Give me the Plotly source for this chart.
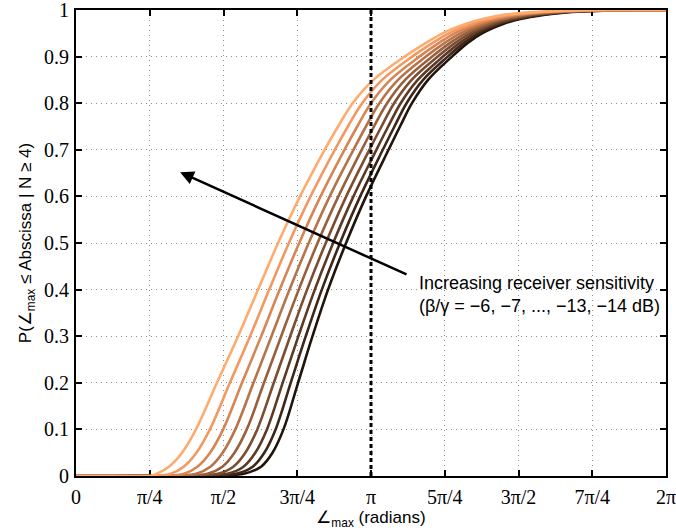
import plotly.graph_objects as go

# Cumulative probability levels (y) at which each curve's angle was read
levels = [0, 0, 0, 0.005, 0.02, 0.05, 0.1, 0.2, 0.3, 0.4, 0.5, 0.6, 0.7, 0.75, 0.8,
          0.85, 0.9, 0.93, 0.95, 0.97, 0.98, 0.99, 0.995, 1.0, 1.0, 1.0]

# Angle (degrees; axis labelled in radians) at each level, one list per beta/gamma
curve_m6 = [0, 36, 72.0, 102.5, 112.9, 119.9, 126.6, 135.5, 144.3, 153.8, 164.8, 177.0, 190.7, 197.7, 205.0,
            214.8, 229.4, 239.2, 247.7, 260.6, 270.3, 286.2, 299.0, 344.2, 352, 360]
curve_m7 = [0, 35, 69.6, 97.7, 107.8, 114.9, 121.8, 131.0, 140.2, 150.0, 161.1, 173.4, 187.2, 194.3, 201.7,
            211.8, 226.8, 236.9, 245.5, 258.5, 268.2, 284.0, 297.0, 341.6, 351, 360]
curve_m8 = [0, 33, 66.9, 92.4, 102.2, 109.4, 116.5, 126.1, 135.7, 145.7, 156.9, 169.3, 183.3, 190.5, 198.1,
            208.5, 223.9, 234.4, 243.1, 256.2, 266.0, 281.6, 294.8, 338.6, 349, 360]
curve_m9 = [0, 32, 63.9, 86.6, 96.0, 103.3, 110.6, 120.7, 130.7, 141.0, 152.4, 164.9, 179.0, 186.4, 194.1,
            204.8, 220.7, 231.6, 240.5, 253.7, 263.5, 278.9, 292.4, 335.4, 348, 360]
curve_m10 = [0, 30, 60.7, 80.2, 89.3, 96.7, 104.2, 114.7, 125.2, 135.9, 147.4, 160.1, 174.3, 181.8, 189.8,
             200.8, 217.3, 228.5, 237.6, 251.0, 260.7, 276.0, 289.8, 331.9, 346, 360]
curve_m11 = [0, 28, 57.2, 73.3, 82.0, 89.5, 97.2, 108.3, 119.3, 130.3, 142.0, 154.8, 169.3, 176.9, 185.1,
             196.5, 213.5, 225.2, 234.5, 248.0, 257.8, 272.8, 286.9, 328.1, 344, 360]
curve_m12 = [0, 27, 53.4, 65.9, 74.1, 81.8, 89.8, 101.3, 113.0, 124.3, 136.2, 149.2, 163.8, 171.6, 180.0,
             191.8, 209.5, 221.7, 231.1, 244.8, 254.6, 269.4, 283.8, 324.0, 342, 360]
curve_m13 = [0, 25, 49.3, 57.9, 65.7, 73.5, 81.7, 93.9, 106.2, 117.9, 129.9, 143.1, 157.9, 165.9, 174.6,
             186.8, 205.1, 217.9, 227.5, 241.4, 251.1, 265.7, 280.5, 319.6, 340, 360]
curve_m14 = [0, 22, 45.0, 49.4, 56.7, 64.7, 73.2, 86.0, 98.9, 111.1, 123.3, 136.7, 151.7, 159.9, 168.8,
             181.5, 200.5, 213.8, 223.7, 237.7, 247.5, 261.8, 277.0, 314.9, 338, 360]

series_names = ["-6 dB", "-7 dB", "-8 dB", "-9 dB", "-10 dB", "-11 dB", "-12 dB", "-13 dB", "-14 dB"]
series_data = [curve_m6, curve_m7, curve_m8, curve_m9, curve_m10, curve_m11, curve_m12, curve_m13, curve_m14]
series_colors = ["#20140D", "#3E2719", "#5C3A25", "#7B4D31", "#99603D",
                 "#B77349", "#D68555", "#F49861", "#FFAB6D"]

x_tick_vals = [0, 45, 90, 135, 180, 225, 270, 315, 360]
x_tick_text = ["0", "π/4", "π/2", "3π/4", "π", "5π/4", "3π/2", "7π/4", "2π"]
y_tick_vals = [0, 0.1, 0.2, 0.3, 0.4, 0.5, 0.6, 0.7, 0.8, 0.9, 1.0]
y_tick_text = ["0", "0.1", "0.2", "0.3", "0.4", "0.5", "0.6", "0.7", "0.8", "0.9", "1"]

ref_angle = [180, 180]
ref_prob = [0, 1]

fig = go.Figure()

for name, xs, col in zip(series_names, series_data, series_colors):
    fig.add_trace(go.Scatter(
        x=xs, y=levels, mode="lines", name=name,
        line=dict(color=col, width=2.6, shape="spline", smoothing=1.0),
        showlegend=False, hoverinfo="skip",
    ))

fig.add_trace(go.Scatter(
    x=ref_angle, y=ref_prob, mode="lines",
    line=dict(color="black", width=3, dash="4px,3px"),
    showlegend=False, hoverinfo="skip",
))

serif = "Liberation Serif, Times New Roman, serif"
sans = "Liberation Sans, Arial, Helvetica, sans-serif"

axis_common = dict(
    showline=True, linecolor="black", linewidth=2, mirror="allticks",
    ticks="inside", ticklen=6, tickwidth=1.5, tickcolor="black",
    showgrid=True, gridcolor="#8c8c8c", gridwidth=1, griddash="1px,4px",
    zeroline=False, layer="below traces", automargin=False,
    ticklabeloverflow="allow",
    tickfont=dict(family=serif, size=20, color="black"),
)

fig.update_layout(
    width=676, height=532,
    margin=dict(l=76, r=10, t=10, b=56),
    paper_bgcolor="white", plot_bgcolor="white",
    xaxis=dict(
        range=[0, 360], tickmode="array",
        tickvals=x_tick_vals, ticktext=x_tick_text,
        ticklabelstandoff=2,
        title=dict(text="∠<sub>max</sub> (radians)", font=dict(family=sans, size=17, color="black"), standoff=4),
        **axis_common,
    ),
    yaxis=dict(
        range=[0, 1], tickmode="array",
        tickvals=y_tick_vals, ticktext=y_tick_text,
        ticklabelstandoff=1,
        title=dict(text="P(∠<sub>max</sub> ≤ Abscissa | N ≥ 4)", font=dict(family=sans, size=17, color="black"), standoff=8),
        **axis_common,
    ),
)

# Arrow
fig.add_annotation(
    x=63.5, y=0.652, ax=202.6, ay=0.431,
    xref="x", yref="y", axref="x", ayref="y",
    showarrow=True, arrowhead=2, arrowsize=1.1, arrowwidth=2.5, arrowcolor="black",
    text="",
)
# Label
fig.add_annotation(
    x=208.1, y=0.39, xref="x", yref="y",
    text="Increasing receiver sensitivity<br>(β/γ = −6, −7, ..., −13, −14 dB)",
    showarrow=False, xanchor="left", yanchor="middle", align="left",
    font=dict(family=sans, size=18, color="black"),
    bgcolor="rgba(0,0,0,0)",
)

fig.write_html("out.html", config={"displayModeBar": False},
               post_script="document.body.style.margin='0';")
